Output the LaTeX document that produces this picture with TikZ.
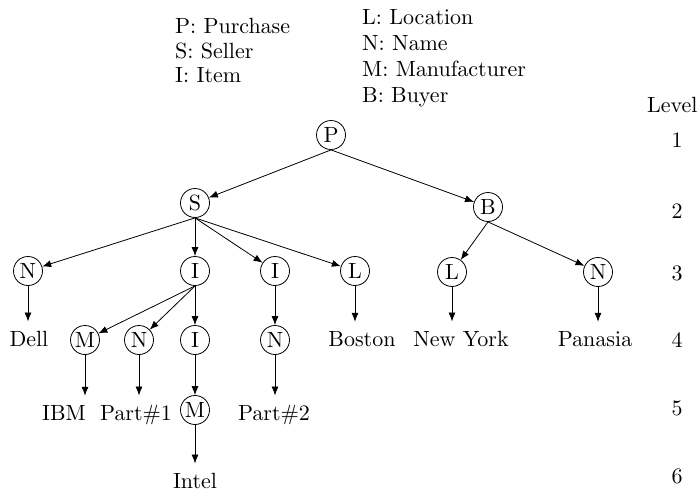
\documentclass[tikz,border=0pt]{standalone}
\usetikzlibrary{arrows.meta}
\font\cmbig=cmr10 at 22pt
\begin{document}
\begin{tikzpicture}[x=1pt,y=-1pt,
  every node/.style={font=\cmbig},
  tnode/.style={circle,draw,line width=0.8pt,minimum size=29pt,inner sep=0pt},
  leaf/.style={anchor=base,inner sep=0pt},
  legend/.style={anchor=base west,inner sep=0pt},
  lvl/.style={inner sep=0pt},
  edge/.style={line width=0.8pt,-{Latex[length=9pt,width=7pt]}},
  gap/.style={shorten >=9pt}]
\useasboundingbox (0,0) rectangle (700,493);
% legend
\node[legend] (lp) at (175,33) {P: Purchase};
\node[legend] (ls) at (175,58) {S: Seller};
\node[legend] (li) at (175,82) {I: Item};
\node[legend] (ll) at (362,24) {L: Location};
\node[legend] (ln) at (362,50) {N: Name};
\node[legend] (lm) at (362,76) {M: Manufacturer};
\node[legend] (lb) at (362,102) {B: Buyer};
% levels
\node[legend] (lev) at (647,112) {Level};
\node[lvl] (l1) at (677,140) {1};
\node[lvl] (l2) at (677,211) {2};
\node[lvl] (l3) at (677,273) {3};
\node[lvl] (l4) at (677,340) {4};
\node[lvl] (l5) at (677,408) {5};
\node[lvl] (l6) at (677,476) {6};
% tree nodes
\node[tnode] (P) at (331,135) {P};
\node[tnode] (S) at (195,203) {S};
\node[tnode] (B) at (488,207) {B};
\node[tnode] (N1) at (28,271) {N};
\node[tnode] (I1) at (195,271) {I};
\node[tnode] (I2) at (275,271) {I};
\node[tnode] (L1) at (355,271) {L};
\node[tnode] (L2) at (452,272) {L};
\node[tnode] (N2) at (598,272) {N};
\node[tnode] (M1) at (85,340) {M};
\node[tnode] (N4) at (139,340) {N};
\node[tnode] (I3) at (195,340) {I};
\node[tnode] (N3) at (275,340) {N};
\node[tnode] (M2) at (195,410) {M};
% leaves
\node[leaf] (dell) at (29,346) {Dell};
\node[leaf] (boston) at (362,346) {Boston};
\node[leaf] (ny) at (461,346) {New York};
\node[leaf] (pan) at (595,346) {Panasia};
\node[leaf] (ibm) at (64,420) {IBM};
\node[leaf] (p1) at (136,420) {Part\#1};
\node[leaf] (p2) at (274,420) {Part\#2};
\node[leaf] (intel) at (195,488) {Intel};
% edges
\draw[edge] (P.south) -- (S);
\draw[edge] (P.south) -- (B);
\draw[edge] (S.south) -- (N1);
\draw[edge] (S.south) -- (I1);
\draw[edge] (S.south) -- (I2);
\draw[edge] (S.south) -- (L1);
\draw[edge] (B.south) -- (L2);
\draw[edge] (B.south) -- (N2);
\draw[edge] (I1.south) -- (M1);
\draw[edge] (I1.south) -- (N4);
\draw[edge] (I1.south) -- (I3);
\draw[edge] (I2.south) -- (N3);
\draw[edge] (I3.south) -- (M2);
% leaf arrows
\draw[edge,gap] (N1.south) -- (N1.south |- dell.north);
\draw[edge,gap] (L1.south) -- (L1.south |- boston.north);
\draw[edge,gap] (L2.south) -- (L2.south |- ny.north);
\draw[edge,gap] (N2.south) -- (N2.south |- pan.north);
\draw[edge,gap] (M1.south) -- (M1.south |- ibm.north);
\draw[edge,gap] (N4.south) -- (N4.south |- p1.north);
\draw[edge,gap] (N3.south) -- (N3.south |- p2.north);
\draw[edge,gap] (M2.south) -- (M2.south |- intel.north);
\end{tikzpicture}
\end{document}
